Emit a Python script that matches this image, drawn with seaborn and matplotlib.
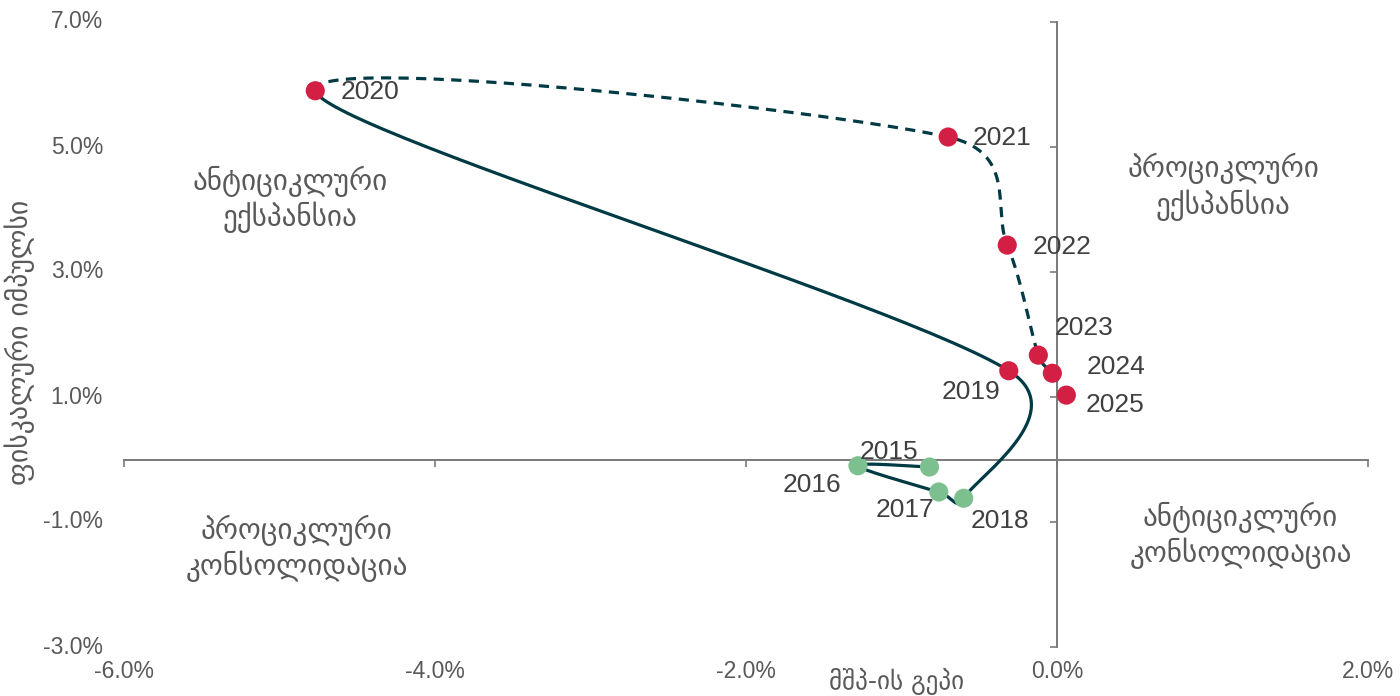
import numpy as np
import pandas as pd
import matplotlib
matplotlib.use("Agg")
import matplotlib.pyplot as plt
import matplotlib.transforms as mtransforms
import seaborn as sns

# ---------------- data ----------------
years = [2015, 2016, 2017, 2018, 2019, 2020, 2021, 2022, 2023, 2024, 2025]
gdp_gap = [-0.82, -1.28, -0.76, -0.60, -0.31, -4.77, -0.70, -0.32, -0.12, -0.03, 0.06]
fiscal_impulse = [-0.12, -0.10, -0.52, -0.62, 1.42, 5.90, 5.16, 3.43, 1.67, 1.38, 1.03]
group = ["early", "early", "early", "early", "late", "late", "late", "late", "late", "late", "late"]
solid_until_year = 2020

x_ticks = [-6, -4, -2, 0, 2]
y_ticks = [-3, -1, 1, 3, 5, 7]

x_label = "მშპ-ის გეპი"
y_label = "ფისკალური იმპულსი"
quadrant_texts = ["ანტიციკლური\nექსპანსია", "პროციკლური\nექსპანსია",
                  "პროციკლური\nკონსოლიდაცია", "ანტიციკლური\nკონსოლიდაცია"]

# ---------------- layout / style ----------------
quad_pos = [(-4.93, 4.16), (1.07, 4.36), (-4.89, -1.42), (1.18, -1.21)]
label_offsets = {2015: (-41, 15), 2016: (-46, -19), 2017: (-34, -18), 2018: (36, -23),
                 2019: (-38, -21), 2020: (55, -1), 2021: (54, -1), 2022: (55, -2),
                 2023: (46, 27), 2024: (64, 6), 2025: (49, -10)}
c_line = "#003a44"
c_red = "#d41f44"
c_green = "#7cc08f"
c_axis = "#7a7a7a"
c_tick = "#595959"
c_year = "#404040"
c_quad = "#595959"

sns.set_style("white")
plt.rcParams["font.family"] = ["Liberation Sans", "DejaVu Sans"]

df = pd.DataFrame({"year": years, "x": gdp_gap, "y": fiscal_impulse, "group": group})

fig = plt.figure(figsize=(14, 6.96), dpi=100)
ax = fig.add_axes([124 / 1400, 1 - 647 / 696, (1368 - 124) / 1400, (647 - 22) / 696])
ax.set_xlim(x_ticks[0], x_ticks[-1])
ax.set_ylim(y_ticks[0], y_ticks[-1])


def excel_smooth(xs, ys, n=60, limit=0.58):
    """Bezier smoothing (Catmull-Rom style) computed in display pixels."""
    pts = ax.transData.transform(np.column_stack([xs, ys]))
    m = len(pts)
    out = []
    for i in range(m - 1):
        p0 = pts[i - 1] if i > 0 else pts[i]
        p1 = pts[i]
        p2 = pts[i + 1]
        p3 = pts[i + 2] if i + 2 < m else pts[i + 1]
        seg = np.linalg.norm(p2 - p1)
        t1 = (p2 - p0) / 6.0
        t2 = (p3 - p1) / 6.0
        for t in (t1, t2):
            L = np.linalg.norm(t)
            if L > limit * seg and L > 0:
                t *= limit * seg / L
        c1 = p1 + t1
        c2 = p2 - t2
        tt = np.linspace(0, 1, n)[:, None]
        b = ((1 - tt) ** 3) * p1 + 3 * ((1 - tt) ** 2) * tt * c1 + 3 * (1 - tt) * tt ** 2 * c2 + tt ** 3 * p2
        out.append((i, b))
    return out


segs = excel_smooth(df["x"].values, df["y"].values)
inv = ax.transData.inverted()
solid_pts, dashed_pts = [], []
for i, b in segs:
    d = inv.transform(b)
    if years[i + 1] <= solid_until_year:
        solid_pts.append(d if not solid_pts else d[1:])
    else:
        dashed_pts.append(d if not dashed_pts else d[1:])
solid = np.vstack(solid_pts)
dashed = np.vstack(dashed_pts)
sol_df = pd.DataFrame({"x": solid[:, 0], "y": solid[:, 1]})
das_df = pd.DataFrame({"x": dashed[:, 0], "y": dashed[:, 1]})

sns.lineplot(data=sol_df, x="x", y="y", sort=False, estimator=None, color=c_line,
             linewidth=2.3, ax=ax, zorder=3)
sns.lineplot(data=das_df, x="x", y="y", sort=False, estimator=None, color=c_line,
             linewidth=2.3, ax=ax, zorder=3)
ax.lines[-1].set_dashes([3.2, 2.3])

sns.scatterplot(data=df, x="x", y="y", hue="group", palette={"early": c_green, "late": c_red},
                s=190, edgecolor="none", linewidth=0, ax=ax, zorder=4, legend=False)

for yr, xv, yv in zip(years, gdp_gap, fiscal_impulse):
    ax.annotate(str(yr), (xv, yv), xytext=label_offsets[yr], textcoords="offset pixels",
                ha="center", va="center", fontsize=19, color=c_year, zorder=5)

# axes through origin
for s in ["top", "right"]:
    ax.spines[s].set_visible(False)
ax.spines["left"].set_position(("data", 0))
ax.spines["bottom"].set_position(("data", 0))
for s in ["left", "bottom"]:
    ax.spines[s].set_color(c_axis)
    ax.spines[s].set_linewidth(1.4)
    ax.spines[s].set_zorder(1)
ax.set_xticks(x_ticks)
ax.set_yticks(y_ticks)
ax.tick_params(axis="both", which="major", direction="out", length=5, width=1.2,
               color=c_axis, labelleft=False, labelbottom=False, left=True, bottom=True)
ax.set_xlabel("")
ax.set_ylabel("")

ty = mtransforms.blended_transform_factory(ax.transAxes, ax.transData)
for v in y_ticks:
    ax.text(-21 / 1244, v, f"{v:.1f}%", transform=ty, ha="right", va="center",
            fontsize=16.5, color=c_tick, clip_on=False)
tx = mtransforms.blended_transform_factory(ax.transData, ax.transAxes)
for v in x_ticks:
    ax.text(v, -25 / 625, f"{v:.1f}%", transform=tx, ha="center", va="center",
            fontsize=16.5, color=c_tick, clip_on=False)

for (qx, qy), txt in zip(quad_pos, quadrant_texts):
    ax.text(qx, qy, txt, ha="center", va="center", fontsize=21, color=c_quad,
            family=["DejaVu Sans"], linespacing=1.2)

fig.text(897 / 1400, 1 - 681 / 696, x_label, ha="center", va="center", fontsize=18,
         color=c_tick, family=["DejaVu Sans"])
fig.text(20 / 1400, 1 - 342 / 696, y_label, ha="center", va="center", fontsize=20,
         color=c_tick, rotation=90, family=["DejaVu Sans"])

fig.savefig("out.png", dpi=100)
